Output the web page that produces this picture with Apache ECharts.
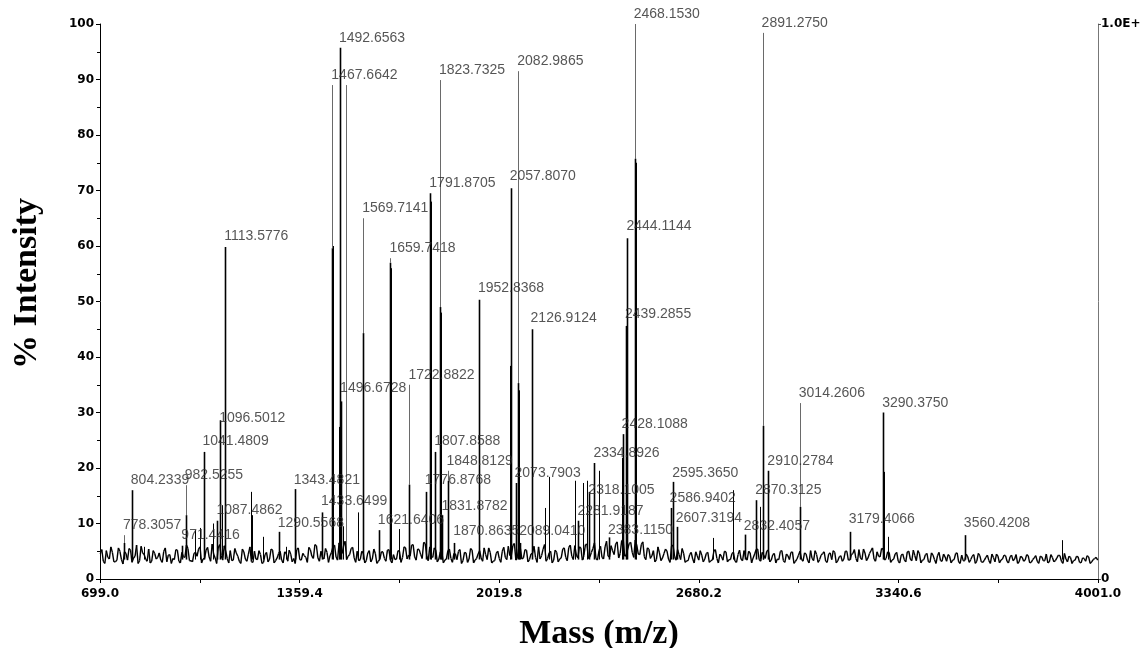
<!DOCTYPE html>
<html>
<head>
<meta charset="utf-8">
<title>Mass spectrum</title>
<script src="https://cdn.jsdelivr.net/npm/echarts@6/dist/echarts.min.js"></script>
<style>
html, body { margin: 0; padding: 0; background: #fff; }
#spectrum { width: 1141px; height: 648px; }
</style>
</head>
<body>
<div id="spectrum"></div>
<script>
// labelled peaks: text, peak top (% intensity), height where the label sits
const peakLabels = ['778.3057', '804.2339', '971.4416', '982.5255', '1041.4809', '1087.4862', '1096.5012', '1113.5776', '1290.5568', '1343.4821',
  '1433.6499', '1467.6642', '1492.6563', '1496.6728', '1569.7141', '1621.6406', '1659.7418', '1722.8822', '1776.8768', '1791.8705',
  '1807.8588', '1823.7325', '1831.8782', '1848.8129', '1870.8635', '1952.8368', '2057.8070', '2073.7903', '2082.9865', '2089.0410',
  '2126.9124', '2281.9187', '2318.1005', '2334.8926', '2383.1150', '2428.1088', '2439.2855', '2444.1144', '2468.1530', '2586.9402',
  '2595.3650', '2607.3194', '2832.4057', '2870.3125', '2891.2750', '2910.2784', '3014.2606', '3179.4066', '3290.3750', '3560.4208']
const peakHeight = [6.5, 16, 6, 11.5, 22.9, 10.5, 28.6, 59.8, 8.5, 16.2,
  12, 59.6, 95.7, 32, 44.3, 8.8, 57, 17, 15.7, 69.5,
  22.9, 49, 11.5, 17.7, 6.5, 50.3, 70.4, 17.3, 35.3, 6.5,
  45, 10.5, 15.7, 20.9, 7.5, 26.1, 45.6, 61.4, 75.7, 12.8,
  17.5, 9.4, 8, 14.2, 27.6, 19.5, 13, 8.5, 30, 7.9]
const labelAt = [7.9, 16, 6.1, 16.9, 23.1, 10.6, 27.2, 60, 8.3, 16,
  12.3, 89, 95.7, 32.5, 65, 8.8, 57.8, 35, 16, 69.5,
  23.1, 89.9, 11.4, 19.5, 6.8, 50.6, 70.8, 17.3, 91.5, 6.8,
  45.2, 10.5, 14.2, 20.9, 7, 26.1, 45.9, 61.8, 100, 12.8,
  17.3, 9.2, 7.7, 14.2, 98.4, 19.5, 31.7, 9, 29.9, 8.3]

// unlabelled spikes and isotope shoulders
const spikeMz = [806, 843, 1013, 1030, 1073, 1101, 1199, 1203, 1238, 1314, 1470, 1490, 1503, 1553, 1662, 1689, 1794, 1826,
  2055, 2085, 2172, 2186, 2269, 2296, 2309, 2350, 2425, 2471, 2727, 2794, 2882, 2893, 3293, 3306, 3882]
const spikeHeight = [12, 5.8, 8.8, 9.2, 10, 13.3, 15.7, 11.5, 7.6, 5.8, 60, 27.4, 9.5, 12, 56, 9, 68, 48,
  38.4, 34, 12.8, 18.4, 17.7, 17.3, 17.7, 19.5, 21.8, 75, 7.4, 16, 13, 27, 19.3, 7.6, 7]

// a lone grey marker line
const markerMz = [1513]
const markerTop = [89]

// baseline noise: readings every 10 Da from 700 Da, and a second set offset by 5 Da
const noiseStart = 700
const noiseStep = 10
const noiseA = [
  4.5, 3.2, 5.1, 3.6, 4.8, 3.1, 5.6, 3.5, 4.9, 3.4, 5.2, 3.8, 6.1, 3.3, 4.7, 3.6, 5.4, 3.2, 4.6, 3.9,
  3.4, 5.0, 3.1, 4.4, 3.7, 5.3, 3.2, 4.8, 3.9, 5.5, 3.3, 4.6, 4.1, 5.8, 3.6, 5.2, 4.0, 6.3, 3.8, 5.6,
  4.2, 6.0, 3.7, 5.1, 3.4, 4.7, 3.2, 5.4, 3.6, 4.5, 3.1, 5.0, 3.5, 4.4, 3.0, 4.8, 3.6, 5.2, 3.3, 4.6,
  3.4, 4.9, 3.2, 4.5, 3.7, 5.3, 3.5, 4.6, 3.9, 5.7, 4.1, 6.2, 3.8, 5.0, 3.6, 4.8, 4.2, 5.9, 4.0, 6.5,
  4.6, 6.8, 4.1, 5.5, 3.8, 5.0, 3.5, 4.7, 3.3, 5.1, 3.6, 4.6, 3.2, 4.9, 3.7, 5.2, 3.4, 4.4, 3.6, 5.0,
  3.9, 5.6, 4.3, 6.1, 4.0, 5.4, 4.4, 6.6, 4.2, 5.8, 3.9, 5.2, 3.6, 4.8, 3.4, 5.1, 3.7, 4.6, 3.5, 5.3,
  3.3, 4.7, 3.6, 5.2, 3.4, 4.5, 3.8, 5.6, 3.5, 4.8, 3.2, 4.6, 3.7, 5.0, 3.9, 5.9, 4.3, 6.4, 4.0, 5.5,
  3.8, 5.2, 3.5, 4.6, 3.9, 5.8, 4.2, 6.2, 3.7, 5.0, 3.4, 4.8, 3.6, 5.4, 3.9, 5.7, 4.1, 6.0, 3.8, 5.6,
  4.2, 6.3, 4.0, 5.5, 3.7, 5.1, 3.9, 5.8, 4.1, 6.0, 4.4, 6.7, 4.6, 7.1, 4.3, 6.4, 4.8, 7.0, 4.5, 6.2,
  4.0, 5.6, 3.7, 5.1, 3.5, 4.7, 3.8, 5.4, 3.6, 5.9, 4.1, 5.3, 3.5, 4.6, 3.3, 4.4, 3.6, 4.9, 3.4, 4.3,
  3.6, 4.8, 3.3, 5.0, 3.7, 4.5, 3.4, 4.9, 3.5, 4.6, 3.2, 4.4, 3.6, 5.1, 3.4, 4.7, 3.8, 5.3, 3.5, 4.8,
  3.7, 5.2, 3.4, 4.6, 3.6, 5.0, 3.3, 4.5, 3.5, 4.9, 3.2, 4.3, 3.6, 4.7, 3.4, 5.1, 3.3, 4.4, 3.5, 4.6,
  3.2, 4.5, 3.5, 4.8, 3.3, 4.2, 3.6, 5.0, 3.4, 4.6, 3.7, 5.3, 3.5, 4.7, 3.8, 5.1, 3.6, 4.9, 4.0, 5.4,
  3.7, 4.8, 3.4, 4.5, 3.2, 4.3, 3.5, 4.9, 3.6, 5.2, 3.3, 4.6, 3.4, 4.4, 3.1, 4.7, 3.5, 4.2, 3.3, 4.5,
  3.2, 4.1, 3.4, 4.6, 3.1, 4.3, 3.3, 4.0, 3.5, 4.4, 3.2, 4.2, 3.0, 3.9, 3.3, 4.5, 3.1, 4.1, 3.4, 4.3,
  3.2, 4.0, 3.3, 4.4, 3.1, 3.9, 3.4, 4.2, 3.0, 3.8, 3.2, 4.1, 3.3, 4.5, 3.1, 3.9, 3.3, 4.3, 3.2, 4.6,
  3.1, 3.9, 3.3, 4.1, 3.0, 3.8, 3.2, 4.0, 3.1, 3.7, 3.4
]
const noiseB = [
  5.3, 2.8, 3.9, 5.8, 3.1, 3.4, 5.0, 2.7, 4.6, 5.5, 3.0, 4.1, 2.8, 5.9, 4.4, 3.2, 2.9, 5.1, 3.6, 4.7,
  3.0, 5.6, 4.3, 2.8, 3.5, 5.2, 2.9, 4.0, 6.1, 3.3, 3.1, 4.8, 5.4, 2.9, 3.7, 5.7, 3.2, 4.5, 2.8, 6.2,
  3.4, 5.0, 2.9, 3.3, 5.5, 4.1, 2.8, 4.9, 3.2, 5.8, 3.0, 3.6, 5.1, 2.8, 4.4, 3.1, 5.4, 2.9, 3.8, 5.0,
  2.9, 4.6, 5.2, 3.1, 2.8, 5.6, 3.4, 4.2, 3.0, 5.3, 3.7, 6.0, 3.2, 3.9, 5.5, 3.0, 4.8, 6.1, 3.4, 5.2,
  6.0, 3.5, 4.4, 5.7, 3.0, 3.3, 5.0, 2.9, 4.7, 3.1, 5.4, 2.8, 3.6, 4.9, 3.2, 5.3, 2.9, 3.5, 5.1, 3.0,
  5.8, 3.6, 4.1, 6.2, 3.4, 5.3, 3.7, 6.4, 3.3, 4.0, 5.6, 3.1, 4.9, 2.9, 3.6, 5.4, 3.0, 4.5, 5.0, 2.8,
  4.8, 3.0, 5.5, 2.9, 3.7, 5.1, 3.2, 4.4, 5.6, 2.9, 3.3, 5.0, 3.0, 5.7, 3.5, 4.2, 6.0, 3.4, 5.8, 3.6,
  5.3, 3.1, 4.5, 5.9, 3.0, 3.6, 5.4, 3.2, 4.7, 2.9, 5.2, 3.1, 3.8, 5.6, 3.3, 6.1, 3.5, 4.3, 5.8, 3.4,
  6.2, 3.7, 4.8, 6.5, 3.4, 5.9, 3.6, 6.8, 4.0, 5.1, 6.3, 3.8, 6.9, 4.1, 5.4, 6.6, 3.9, 6.1, 4.4, 6.7,
  3.5, 5.4, 4.2, 3.1, 5.8, 3.3, 4.6, 5.0, 3.0, 6.1, 3.4, 4.4, 5.5, 3.0, 3.3, 4.8, 2.9, 4.2, 5.1, 3.1,
  4.6, 3.0, 3.4, 5.3, 2.9, 4.1, 5.0, 3.1, 3.5, 4.8, 3.0, 5.2, 3.3, 3.9, 5.0, 2.9, 4.5, 5.4, 3.2, 4.3,
  5.0, 3.1, 4.4, 2.9, 3.5, 5.1, 3.0, 4.2, 4.8, 2.8, 3.6, 5.0, 3.2, 4.5, 2.9, 3.7, 5.1, 3.0, 4.3, 4.9,
  3.0, 4.7, 5.1, 2.9, 4.0, 3.2, 5.0, 3.4, 4.4, 5.3, 3.1, 3.8, 5.4, 3.3, 4.6, 5.6, 3.2, 4.1, 5.5, 3.4,
  4.9, 3.0, 3.6, 4.8, 2.9, 4.5, 3.1, 5.0, 3.3, 4.2, 5.1, 2.9, 3.5, 4.6, 3.0, 4.3, 2.8, 4.8, 3.2, 4.0,
  4.4, 2.9, 3.5, 4.7, 2.8, 3.3, 4.5, 3.0, 4.1, 2.8, 4.6, 3.1, 3.4, 4.3, 2.8, 3.9, 4.5, 2.9, 3.6, 4.2,
  2.9, 4.3, 3.6, 2.8, 4.1, 3.2, 4.4, 2.9, 3.5, 4.2, 2.8, 4.0, 3.3, 2.9, 4.4, 3.1, 3.8, 4.2, 2.8, 3.6,
  4.1, 2.8, 3.4, 4.0, 2.9, 3.7, 4.2, 2.8, 3.5, 3.9
]

const massMin = 699.0
const massMax = 4001.0
const massStep = 660.4
const base = 3.5

const peakMz = peakLabels.map(Number)

// noise readings in mass order, then joined pairwise into segments
const noisePoints = []
noiseA.forEach((v, i) => {
  noisePoints.push([noiseStart + i * noiseStep, v])
  if (i < noiseB.length) noisePoints.push([noiseStart + noiseStep / 2 + i * noiseStep, noiseB[i]])
})
const noiseSegs = noisePoints.slice(1).map((p, i) => [noisePoints[i][0], noisePoints[i][1], p[0], p[1]])

const peakData = peakMz.map((m, i) => [m, base, peakHeight[i]])
const leaderData = peakMz.map((m, i) => [m, peakHeight[i], labelAt[i]]).filter(d => d[2] > d[1] + 0.5)
markerMz.forEach((m, i) => leaderData.push([m, base, markerTop[i]]))
const spikeData = spikeMz.map((m, i) => [m, base, spikeHeight[i]])
const labelData = peakMz.map((m, i) => [m, labelAt[i], i])

function stick(color, width) {
  return function (params, api) {
    const p0 = api.coord([api.value(0), api.value(1)])
    const p1 = api.coord([api.value(0), api.value(2)])
    return {
      type: 'line',
      shape: { x1: Math.round(p0[0]) + 0.5, y1: p0[1], x2: Math.round(p1[0]) + 0.5, y2: p1[1] },
      style: { stroke: color, lineWidth: width }
    }
  }
}

function segment(params, api) {
  const p0 = api.coord([api.value(0), api.value(1)])
  const p1 = api.coord([api.value(2), api.value(3)])
  return {
    type: 'line',
    shape: { x1: p0[0], y1: p0[1], x2: p1[0], y2: p1[1] },
    style: { stroke: '#000', lineWidth: 1.4 }
  }
}

const tickFont = { fontFamily: 'DejaVu Sans', fontWeight: 'bold', fontSize: 12, color: '#000' }
const titleFont = { fontFamily: 'Liberation Serif', fontWeight: 'bold', fontSize: 34, color: '#000' }

const chart = echarts.init(document.getElementById('spectrum'), null, { renderer: 'canvas' })
chart.setOption({
  animation: false,
  backgroundColor: '#fff',
  grid: { left: 100, right: 43, top: 24, bottom: 69, outerBoundsMode: 'none', containLabel: false },
  xAxis: {
    type: 'value',
    min: massMin,
    max: massMax,
    interval: massStep,
    name: 'Mass (m/z)',
    nameLocation: 'middle',
    nameGap: 38,
    nameTextStyle: titleFont,
    axisLine: { lineStyle: { color: '#000', width: 1 } },
    axisTick: { length: 4, lineStyle: { color: '#000' } },
    minorTick: { show: true, splitNumber: 2, length: 4, lineStyle: { color: '#000' } },
    axisLabel: Object.assign({ margin: 9, formatter: v => v.toFixed(1) }, tickFont),
    splitLine: { show: false }
  },
  yAxis: [{
    type: 'value',
    min: 0,
    max: 100,
    interval: 10,
    name: '% Intensity',
    nameLocation: 'middle',
    nameGap: 56,
    nameRotate: 90,
    nameTextStyle: Object.assign({ padding: [0, 0, 0, 36] }, titleFont),
    axisLine: { show: true, lineStyle: { color: '#000', width: 1 } },
    axisTick: { show: true, length: 4, lineStyle: { color: '#000' } },
    minorTick: { show: true, splitNumber: 2, length: 3, lineStyle: { color: '#000' } },
    axisLabel: Object.assign({ margin: 6 }, tickFont),
    splitLine: { show: false }
  }, {
    type: 'value',
    position: 'right',
    min: 0,
    max: 10000,
    interval: 10000,
    axisLine: { show: true, lineStyle: { color: '#777', width: 1 } },
    axisTick: { show: true, length: 3, lineStyle: { color: '#555' } },
    axisLabel: Object.assign({ margin: 3, formatter: v => (v === 0 ? '0' : '1.0E+4') }, tickFont),
    splitLine: { show: false }
  }],
  series: [
    {
      name: 'noise',
      type: 'custom',
      data: noiseSegs,
      renderItem: segment,
      encode: { x: [0, 2], y: [1, 3] },
      z: 2
    },
    {
      name: 'leaders',
      type: 'custom',
      data: leaderData,
      renderItem: stick('#6a6a6a', 1),
      encode: { x: 0, y: [1, 2] },
      z: 1
    },
    {
      name: 'spikes',
      type: 'custom',
      data: spikeData,
      renderItem: stick('#000', 1),
      encode: { x: 0, y: [1, 2] },
      z: 3
    },
    {
      name: 'peaks',
      type: 'custom',
      data: peakData,
      renderItem: stick('#000', 1.6),
      encode: { x: 0, y: [1, 2] },
      z: 3
    },
    {
      name: 'labels',
      type: 'scatter',
      data: labelData,
      symbolSize: 0,
      silent: true,
      z: 4,
      label: {
        show: true,
        position: 'top',
        align: 'left',
        distance: 3,
        offset: [-1, 0],
        fontFamily: 'Liberation Sans',
        fontSize: 14,
        color: '#2a2a2a',
        formatter: p => peakLabels[p.value[2]]
      }
    }
  ]
})
</script>
</body>
</html>
